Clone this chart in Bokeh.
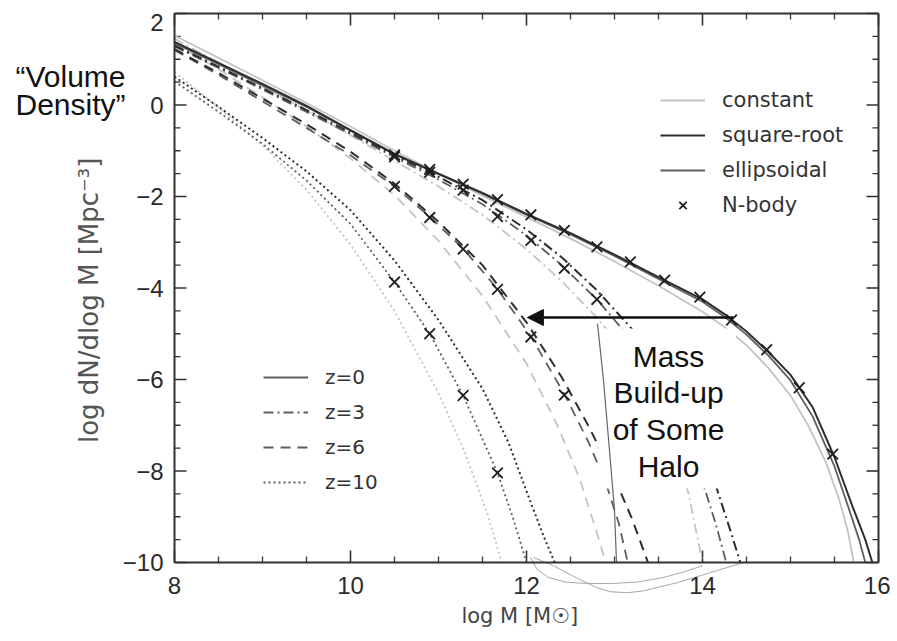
from bokeh.plotting import figure
from bokeh.models import (LinearAxis, Range1d, Legend, LegendItem, Label, Arrow,
                          NormalHead, FixedTicker)
from bokeh.embed import file_html
from bokeh.resources import INLINE

# ---------------- data ----------------
X_TICKS = [8, 10, 12, 14, 16]
X_TICK_LABELS = ["8", "10", "12", "14", "16"]
Y_TICKS = [-10, -8, -6, -4, -2, 0, 2]
Y_TICK_LABELS = ["\u221210", "\u22128", "\u22126", "\u22124", "\u22122", "0", "2"]
MINOR_STEP = 0.5

# z = 0 (solid)
Z0_CONST_X = [8.0, 8.5, 9.0, 9.5, 10.0, 10.5, 11.0, 11.5, 12.0, 12.5, 13.0, 13.5, 14.0, 14.25, 14.5, 14.75, 15.0, 15.2, 15.4, 15.55, 15.65, 15.72]
Z0_CONST_Y = [1.52, 1.03, 0.54, 0.04, -0.47, -1.0, -1.5, -1.98, -2.45, -2.92, -3.42, -3.95, -4.52, -4.85, -5.25, -5.75, -6.35, -7.0, -7.8, -8.6, -9.3, -10.0]
Z0_SQRT_X = [8.0, 8.5, 9.0, 9.5, 10.0, 10.5, 11.0, 11.5, 12.0, 12.5, 13.0, 13.5, 14.0, 14.25, 14.5, 14.75, 15.0, 15.25, 15.5, 15.7, 15.85, 15.93]
Z0_SQRT_Y = [1.38, 0.92, 0.46, -0.02, -0.55, -1.07, -1.50, -1.92, -2.38, -2.80, -3.27, -3.76, -4.25, -4.57, -4.95, -5.40, -5.90, -6.60, -7.70, -8.75, -9.50, -10.0]
Z0_ELL_X = [8.0, 8.5, 9.0, 9.5, 10.0, 10.5, 11.0, 11.5, 12.0, 12.5, 13.0, 13.5, 14.0, 14.25, 14.5, 14.75, 15.0, 15.25, 15.5, 15.65, 15.78, 15.85]
Z0_ELL_Y = [1.35, 0.89, 0.43, -0.04, -0.56, -1.08, -1.51, -1.94, -2.40, -2.83, -3.30, -3.80, -4.30, -4.63, -5.02, -5.48, -6.02, -6.80, -7.90, -8.75, -9.50, -10.0]

# z = 3 (dash-dot)
Z3_CONST_X = [8.0, 8.5, 9.0, 9.5, 10.0, 10.5, 11.0, 11.5, 12.0, 12.4, 12.8, 13.14, 13.4, 13.62, 13.84, 14.0]
Z3_CONST_Y = [1.45, 0.93, 0.40, -0.12, -0.66, -1.22, -1.78, -2.40, -3.15, -3.85, -4.65, -5.45, -6.3, -7.2, -8.48, -10.0]
Z3_SQRT_X = [8.0, 8.5, 9.0, 9.5, 10.0, 10.5, 11.0, 11.5, 12.0, 12.4, 12.8, 13.2, 13.5, 13.8, 14.0, 14.17, 14.3, 14.43]
Z3_SQRT_Y = [1.30, 0.84, 0.37, -0.11, -0.60, -1.10, -1.57, -2.08, -2.72, -3.33, -4.05, -4.90, -5.65, -6.6, -7.45, -8.43, -9.2, -10.0]
Z3_ELL_X = [8.0, 8.5, 9.0, 9.5, 10.0, 10.5, 11.0, 11.5, 12.0, 12.4, 12.8, 13.2, 13.5, 13.75, 13.9, 14.01, 14.15, 14.27]
Z3_ELL_Y = [1.28, 0.81, 0.34, -0.15, -0.64, -1.14, -1.63, -2.17, -2.85, -3.50, -4.25, -5.15, -6.0, -6.9, -7.6, -8.3, -9.15, -10.0]

# z = 6 (dashed)
Z6_CONST_X = [8.0, 8.5, 9.0, 9.5, 10.0, 10.5, 11.0, 11.5, 12.0, 12.35, 12.6, 12.8, 12.9]
Z6_CONST_Y = [1.35, 0.78, 0.17, -0.47, -1.17, -1.97, -2.97, -4.17, -5.65, -7.0, -8.15, -9.35, -10.0]
Z6_SQRT_X = [8.0, 8.5, 9.0, 9.5, 10.0, 10.5, 11.0, 11.5, 12.0, 12.4, 12.7, 13.0, 13.2, 13.38]
Z6_SQRT_Y = [1.22, 0.70, 0.14, -0.42, -1.02, -1.72, -2.55, -3.50, -4.75, -5.95, -7.0, -8.15, -9.05, -10.0]
Z6_ELL_X = [8.0, 8.5, 9.0, 9.5, 10.0, 10.5, 10.9, 11.28, 11.67, 12.05, 12.43, 12.7, 12.9, 13.05, 13.15]
Z6_ELL_Y = [1.20, 0.66, 0.08, -0.50, -1.10, -1.78, -2.44, -3.14, -4.02, -5.06, -6.32, -7.35, -8.25, -9.15, -10.0]

# z = 10 (dotted)
Z10_CONST_X = [8.0, 8.5, 9.0, 9.5, 10.0, 10.5, 11.0, 11.3, 11.55, 11.72]
Z10_CONST_Y = [0.72, -0.05, -0.88, -1.85, -3.05, -4.5, -6.3, -7.6, -8.9, -10.0]
Z10_SQRT_X = [8.0, 8.5, 9.0, 9.5, 10.0, 10.5, 11.0, 11.5, 11.8, 12.05, 12.2, 12.32]
Z10_SQRT_Y = [0.62, -0.04, -0.72, -1.45, -2.30, -3.40, -4.70, -6.20, -7.40, -8.70, -9.45, -10.0]
Z10_ELL_X = [8.0, 8.5, 9.0, 9.5, 10.0, 10.5, 10.9, 11.28, 11.67, 11.85, 12.0]
Z10_ELL_Y = [0.52, -0.15, -0.85, -1.65, -2.60, -3.87, -5.0, -6.35, -8.04, -9.05, -10.0]

# N-body points
NB_Z0_X = [10.5, 10.9, 11.28, 11.67, 12.05, 12.43, 12.8, 13.18, 13.57, 13.97, 14.33, 14.73, 15.1, 15.48]
NB_Z0_Y = [-1.09, -1.41, -1.73, -2.07, -2.40, -2.74, -3.10, -3.43, -3.83, -4.20, -4.70, -5.35, -6.18, -7.63]
NB_Z3_X = [10.5, 10.9, 11.28, 11.67, 12.05, 12.43, 12.8]
NB_Z3_Y = [-1.13, -1.47, -1.86, -2.44, -2.96, -3.57, -4.25]
NB_Z6_X = [10.5, 10.9, 11.28, 11.67, 12.05, 12.43]
NB_Z6_Y = [-1.78, -2.46, -3.15, -4.03, -5.07, -6.34]
NB_Z10_X = [10.5, 10.9, 11.28, 11.67]
NB_Z10_Y = [-3.87, -5.0, -6.35, -8.04]

# hand-drawn annotation strokes (data coordinates)
HAND_LINE_X = [12.807, 12.875, 12.943, 13.0, 13.023]
HAND_LINE_Y = [-4.78, -6.02, -7.55, -8.86, -10.0]
BRACE1_X = [12.045, 12.12, 12.25, 12.45, 12.7, 12.955, 13.25, 13.55, 13.8, 14.0]
BRACE1_Y = [-9.89, -10.15, -10.33, -10.43, -10.46, -10.46, -10.43, -10.33, -10.2, -10.07]
BRACE2_X = [12.08, 12.307, 12.58, 12.8, 12.955, 13.15, 13.33, 13.716, 14.09, 14.466]
BRACE2_Y = [-9.89, -10.07, -10.35, -10.55, -10.64, -10.66, -10.62, -10.44, -10.22, -10.0]
MASK_BOX = dict(left=12.82, right=14.38, top=-4.885, bottom=-8.38)
ARROW_FROM = (14.35, -4.645)
ARROW_TO = (12.01, -4.645)

# ---------------- layout ----------------
W, H = 890, 632
PX_X, PX_Y = 88.0, 45.75          # pixels per data unit
FRAME_LEFT, FRAME_TOP = 174, 13    # pixel position of (8, 2)
XMIN, XMAX, YMIN, YMAX = 8, 16, -10, 2
x_range = Range1d(XMIN - FRAME_LEFT / PX_X, XMIN + (W - FRAME_LEFT) / PX_X)
y_range = Range1d(YMAX - (H - FRAME_TOP) / PX_Y, YMAX + FRAME_TOP / PX_Y)
MAJOR_LEN, MINOR_LEN = 12, 6      # tick lengths, pixels

C_CONST, C_SQRT, C_ELL = "#c4c4c4", "#2e2e2e", "#5e5e5e"
W_CONST, W_SQRT, W_ELL = 1.8, 2.0, 1.8
DASH = {"z0": "solid", "z3": "10 4 2 4", "z6": "10 7", "z10": "2 3"}
FONT = "Liberation Sans"
FONT2 = "DejaVu Sans"
AX = "#333333"

p = figure(width=W, height=H, x_range=x_range, y_range=y_range,
           x_axis_location=None, y_axis_location=None,
           output_backend="svg", toolbar_location=None, min_border=0)
p.xgrid.visible = False
p.ygrid.visible = False
p.outline_line_color = None
p.background_fill_color = "white"
p.border_fill_color = "white"


def minors(ticks):
    out = []
    for a, b in zip(ticks[:-1], ticks[1:]):
        v = a + MINOR_STEP
        while v < b - 1e-9:
            out.append(v)
            v += MINOR_STEP
    return out


x_ticker = FixedTicker(ticks=X_TICKS, minor_ticks=minors(X_TICKS))
y_ticker_main = FixedTicker(ticks=Y_TICKS[:-1], minor_ticks=minors(Y_TICKS))
y_ticker_all = FixedTicker(ticks=Y_TICKS, minor_ticks=minors(Y_TICKS))


def frame_axis(ticker, loc, fixed, bounds):
    ax = LinearAxis(ticker=ticker, fixed_location=fixed, bounds=bounds)
    ax.axis_line_width = 2
    ax.axis_line_color = AX
    ax.major_tick_in = 0
    ax.major_tick_out = 0
    ax.minor_tick_in = 0
    ax.minor_tick_out = 0
    ax.major_tick_line_color = None
    ax.minor_tick_line_color = None
    ax.major_label_text_color = None
    p.add_layout(ax, loc)
    return ax


xa = frame_axis(x_ticker, "below", YMIN, (XMIN, XMAX))
xa.major_label_overrides = {v: s for v, s in zip(X_TICKS, X_TICK_LABELS)}
xa.major_label_text_color = "#2a2a2a"
xa.major_label_text_font = FONT
xa.major_label_text_font_size = "24px"
xa.major_label_standoff = 14
xa.axis_label = "log  M  [M\u2609]"
xa.axis_label_text_font = FONT2
xa.axis_label_text_font_size = "21px"
xa.axis_label_text_font_style = "normal"
xa.axis_label_text_color = "#444444"
xa.axis_label_standoff = 7

ya = frame_axis(y_ticker_main, "left", XMIN, (YMIN, YMAX))
ya.major_label_overrides = {v: s for v, s in zip(Y_TICKS[:-1], Y_TICK_LABELS[:-1])}
ya.major_label_text_color = "#2a2a2a"
ya.major_label_text_font = FONT
ya.major_label_text_font_size = "24px"
ya.major_label_standoff = 11
ya.axis_label = "log  dN/dlog  M  [Mpc\u207b\u00b3]"
ya.axis_label_text_font = FONT2
ya.axis_label_text_font_size = "26px"
ya.axis_label_text_font_style = "normal"
ya.axis_label_text_color = "#555555"
ya.axis_label_standoff = 16

# top tick label "2" sits a little below the corner, as in the reference
top_lab = LinearAxis(ticker=FixedTicker(ticks=[YMAX - 0.2], minor_ticks=[]), fixed_location=XMIN,
                     major_label_overrides={YMAX - 0.2: Y_TICK_LABELS[-1]},
                     major_tick_in=0, major_tick_out=0, axis_line_color=None,
                     major_tick_line_color=None, minor_tick_line_color=None,
                     major_label_text_font=FONT, major_label_text_font_size="24px",
                     major_label_text_color="#2a2a2a", major_label_standoff=11)
p.add_layout(top_lab, "left")

frame_axis(x_ticker, "above", YMAX, (XMIN, XMAX))
frame_axis(y_ticker_all, "right", XMAX, (YMIN, YMAX))

# inward tick marks on all four sides
x_major, x_minor = X_TICKS, minors(X_TICKS)
y_major, y_minor = Y_TICKS, minors(Y_TICKS)
for ticks, length, lw in ((x_major, MAJOR_LEN, 1.6), (x_minor, MINOR_LEN, 1.3)):
    n = len(ticks)
    dy = length / PX_Y
    p.segment(x0=ticks, y0=[YMIN] * n, x1=ticks, y1=[YMIN + dy] * n, line_color=AX, line_width=lw)
    p.segment(x0=ticks, y0=[YMAX] * n, x1=ticks, y1=[YMAX - dy] * n, line_color=AX, line_width=lw)
for ticks, length, lw in ((y_major, MAJOR_LEN, 1.6), (y_minor, MINOR_LEN, 1.3)):
    n = len(ticks)
    dx = length / PX_X
    p.segment(x0=[XMIN] * n, y0=ticks, x1=[XMIN + dx] * n, y1=ticks, line_color=AX, line_width=lw)
    p.segment(x0=[XMAX] * n, y0=ticks, x1=[XMAX - dx] * n, y1=ticks, line_color=AX, line_width=lw)

# ---------------- curves ----------------
curves = {
    "z0": [(Z0_CONST_X, Z0_CONST_Y), (Z0_ELL_X, Z0_ELL_Y), (Z0_SQRT_X, Z0_SQRT_Y)],
    "z3": [(Z3_CONST_X, Z3_CONST_Y), (Z3_ELL_X, Z3_ELL_Y), (Z3_SQRT_X, Z3_SQRT_Y)],
    "z6": [(Z6_CONST_X, Z6_CONST_Y), (Z6_ELL_X, Z6_ELL_Y), (Z6_SQRT_X, Z6_SQRT_Y)],
    "z10": [(Z10_CONST_X, Z10_CONST_Y), (Z10_ELL_X, Z10_ELL_Y), (Z10_SQRT_X, Z10_SQRT_Y)],
}
styles = [(C_CONST, W_CONST), (C_ELL, W_ELL), (C_SQRT, W_SQRT)]
rend = {}
for idx, (col, wid) in enumerate(styles):
    for z, lst in curves.items():
        xs, ys = lst[idx]
        rend[(z, idx)] = p.line(xs, ys, line_color=col, line_width=wid, line_dash=DASH[z])

# white mask behind the annotation text
p.quad(left=[MASK_BOX["left"]], right=[MASK_BOX["right"]], top=[MASK_BOX["top"]],
       bottom=[MASK_BOX["bottom"]], fill_color="white", line_color=None)
p.line(HAND_LINE_X, HAND_LINE_Y, line_color="#666666", line_width=1.2)
for bx, by in ((BRACE1_X, BRACE1_Y), (BRACE2_X, BRACE2_Y)):
    p.line(bx, by, line_color="#a8a8a8", line_width=1.0)

nb_r = None
for xs, ys in ((NB_Z0_X, NB_Z0_Y), (NB_Z3_X, NB_Z3_Y), (NB_Z6_X, NB_Z6_Y), (NB_Z10_X, NB_Z10_Y)):
    nb_r = p.scatter(xs, ys, marker="x", size=15, line_color="#1e1e1e", line_width=1.8)

# arrow
p.add_layout(Arrow(end=NormalHead(size=16, fill_color="#111111", line_color="#111111"),
                   x_start=ARROW_FROM[0], y_start=ARROW_FROM[1],
                   x_end=ARROW_TO[0], y_end=ARROW_TO[1],
                   line_color="#111111", line_width=2.5))

# text annotations
for txt, yy in (("Mass", -5.497), ("Build-up", -6.284), ("of Some", -7.093), ("Halo", -7.902)):
    p.add_layout(Label(x=13.614, y=yy, text=txt, text_align="center", text_baseline="alphabetic",
                       text_font=FONT, text_font_size="30px", text_color="#111111"))
for txt, yy in (("\u201cVolume", 0.623), ("Density\u201d", 0.011)):
    p.add_layout(Label(x=6.818, y=yy, text=txt, text_align="center", text_baseline="alphabetic",
                       text_font=FONT, text_font_size="30px", text_color="#111111"))

# legends
leg1 = Legend(items=[
    LegendItem(label="constant", renderers=[rend[("z0", 0)]]),
    LegendItem(label="square-root", renderers=[rend[("z0", 2)]]),
    LegendItem(label="ellipsoidal", renderers=[rend[("z0", 1)]]),
    LegendItem(label="N-body", renderers=[nb_r]),
], location=(660, 414))
leg2 = Legend(items=[
    LegendItem(label="z=0", renderers=[rend[("z0", 1)]]),
    LegendItem(label="z=3", renderers=[rend[("z3", 1)]]),
    LegendItem(label="z=6", renderers=[rend[("z6", 1)]]),
    LegendItem(label="z=10", renderers=[rend[("z10", 1)]]),
], location=(263, 137))
for lg, fs in ((leg1, "21px"), (leg2, "20px")):
    lg.background_fill_alpha = 0
    lg.border_line_color = None
    lg.padding = 0
    lg.margin = 0
    lg.spacing = 9
    lg.glyph_width = 45
    lg.glyph_height = 26
    lg.label_height = 26
    lg.label_standoff = 17
    lg.label_text_font = FONT2
    lg.label_text_font_size = fs
    lg.label_text_color = "#333333"
    p.add_layout(lg)

open("out.html", "w").write(file_html(p, INLINE))
